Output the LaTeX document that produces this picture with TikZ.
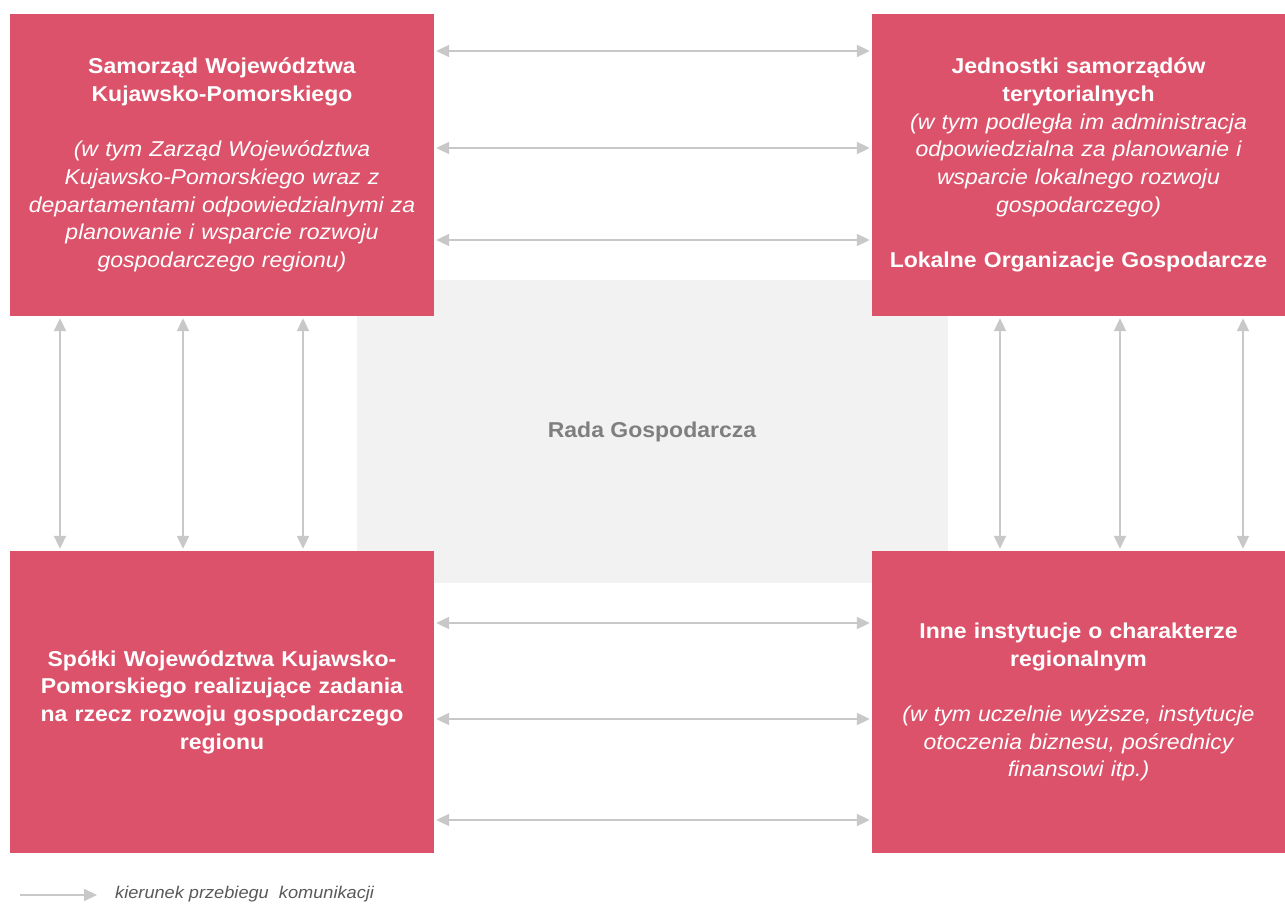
\documentclass[tikz,border=0pt]{standalone}
\usepackage{fontspec}
\setmainfont[FakeStretch=1.07]{Liberation Sans}
\usepackage{tikz}
\usetikzlibrary{arrows.meta}
\definecolor{boxred}{RGB}{219,82,106}
\definecolor{radagray}{RGB}{242,242,242}
\definecolor{linkgray}{RGB}{200,200,200}
\definecolor{labelgray}{RGB}{127,127,127}
\definecolor{legendgray}{RGB}{89,89,89}

\begin{document}
\begin{tikzpicture}[x=1pt,y=-1pt,
  box/.style={fill=boxred,text=white,inner sep=0,minimum height=302,text width=405,align=center,
    font=\fontsize{21.5}{27.7}\selectfont\bfseries},
  link/.style={draw=linkgray,line width=2,{Triangle[length=13,width=12]}-{Triangle[length=13,width=12]},shorten <=2,shorten >=2}]
  \useasboundingbox (0,0) rectangle (1285,904);
  % Rada w tle
  \node[fill=radagray,minimum width=591,minimum height=303,inner sep=0,text=labelgray,font=\fontsize{21.5}{24}\selectfont\bfseries] (rada) at (652,431.5) {Rada Gospodarcza};
  % cztery bloki
  \node[box,minimum width=424] (tl) at (222,165) {Samorząd Województwa\\ Kujawsko-Pomorskiego\\[27.7pt] \mdseries\itshape (w tym Zarząd Województwa\\ Kujawsko-Pomorskiego wraz z\\ departamentami odpowiedzialnymi za\\ planowanie i wsparcie rozwoju\\ gospodarczego regionu)};
  \node[box,minimum width=413] (tr) at (1078.5,165) {Jednostki samorządów\\ terytorialnych\\ {\mdseries\itshape (w tym podległa im administracja\\ odpowiedzialna za planowanie i\\ wsparcie lokalnego rozwoju\\ gospodarczego)}\\[27.7pt] Lokalne Organizacje Gospodarcze};
  \node[box,minimum width=424] (bl) at (222,702) {Spółki Województwa Kujawsko-\\ Pomorskiego realizujące zadania\\ na rzecz rozwoju gospodarczego\\ regionu};
  \node[box,minimum width=413] (br) at (1078.5,702) {Inne instytucje o charakterze\\ regionalnym\\[27.7pt] \mdseries\itshape (w tym uczelnie wyższe, instytucje\\ otoczenia biznesu, pośrednicy\\ finansowi itp.)};
  % komunikacja
  \foreach \y in {51,148,240} \draw[link] (tl.east |- 0,\y) -- (tr.west |- 0,\y);
  \foreach \y in {623,719,820} \draw[link] (bl.east |- 0,\y) -- (br.west |- 0,\y);
  \foreach \x in {60,183,303} \draw[link] (tl.south -| \x,0) -- (bl.north -| \x,0);
  \foreach \x in {1000,1120,1243} \draw[link] (tr.south -| \x,0) -- (br.north -| \x,0);
  % legenda
  \coordinate (legstart) at (20,895);
  \node[anchor=west,inner sep=0,text=legendgray,font=\fontsize{17}{20}\selectfont\itshape] (legtxt) at (115,894) {kierunek przebiegu\ \ komunikacji};
  \draw[draw=linkgray,line width=2,-{Triangle[length=13,width=12]},shorten >=18] (legstart) -- (legtxt.west |- legstart);
\end{tikzpicture}
\end{document}
